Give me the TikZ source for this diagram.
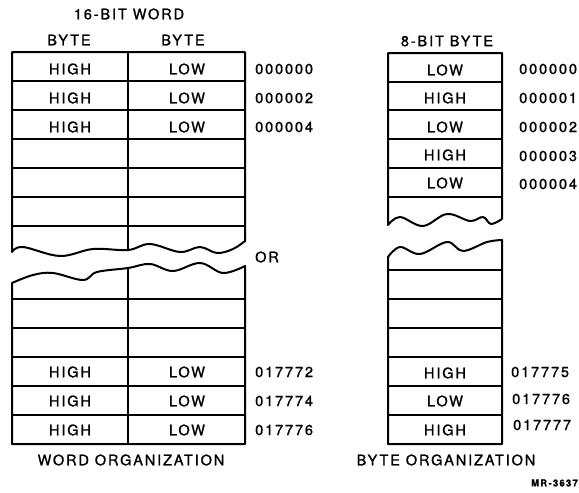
\documentclass[tikz,border=0pt]{standalone}
\usepackage{fontspec}
\setmainfont[LetterSpace=13, FakeBold=1.2]{TeX Gyre Heros}
\usepackage{tikz}
\tikzset{
boxline/.style={line width=2pt, line join=round},
cellline/.style={line width=1.5pt},
cell/.style={font=\fontsize{14.5}{16}\selectfont, inner sep=0pt},
addr/.style={font=\fontsize{14.5}{16}\selectfont, inner sep=0pt, anchor=west},
caption/.style={font=\fontsize{14.5}{16}\selectfont, inner sep=0pt},
tag/.style={font=\fontsize{9.5}{11}\selectfont\bfseries, inner sep=0pt},
}
\begin{document}
\begin{tikzpicture}[x=1pt, y=-1pt]
	\useasboundingbox[fill=white] (0,0) rectangle (579,493);
	
	% word organization
	\draw[boxline] (245,242) -- (245,52) -- (12,52) -- (12,252)
		-- plot[smooth, tension=0.6] coordinates {(12,252) (23,247) (60,256) (93,249) (128,250) (150,244) (180,252) (200,247) (217,253) (233,249) (245,241)};
	\draw[boxline] (12,283) -- plot[smooth, tension=0.6] coordinates {(12,283) (33,275) (53,273) (83,280) (97,272) (128,268) (150,264) (173,271) (200,263) (223,273) (245,266)}
		-- (245,444) -- (12,444) -- cycle;
	\draw[cellline] (128,52) -- (128,250) (128,268) -- (128,444);
	\draw[cellline] (12,81) -- (245,81) (12,110) -- (245,110) (12,139) -- (245,139)
		(12,168) -- (245,168) (12,197) -- (245,197) (12,226) -- (245,226);
	\draw[cellline] (12,299) -- (245,299) (12,328) -- (245,328) (12,357) -- (245,357)
		(12,386) -- (245,386) (12,415) -- (245,415);
	
	% byte organization
	\draw[boxline] (502,219) -- (502,53) -- (388,53) -- (388,225)
		-- plot[smooth, tension=0.6] coordinates {(388,225) (400,217) (423,226) (447,214) (470,221) (483,217) (491,224) (502,219)};
	\draw[boxline] (388,257) -- plot[smooth, tension=0.6] coordinates {(388,257) (400,247) (420,254) (447,242) (463,251) (487,242) (502,240)}
		-- (502,444) -- (388,444) -- cycle;
	\draw[cellline] (388,82) -- (502,82) (388,110) -- (502,110) (388,139) -- (502,139)
		(388,168) -- (502,168) (388,197) -- (502,197);
	\draw[cellline] (388,270) -- (502,270) (388,299) -- (502,299) (388,328) -- (502,328)
		(388,357) -- (502,357) (388,386) -- (502,386) (388,415) -- (502,415);
	
	% headings
	\node[caption] (wordtitle) at (129,14) {16-BIT WORD};
	\node[caption] (hibyte) at (69,40) {BYTE};
	\node[caption] (lobyte) at (183,40) {BYTE};
	\node[caption] (bytetitle) at (447,41) {8-BIT BYTE};
	
	% word cells
	\node[cell] (wh1) at (70,69) {HIGH};
	\node[cell] (wl1) at (187,69) {LOW};
	\node[cell] (wh2) at (70,98) {HIGH};
	\node[cell] (wl2) at (187,98) {LOW};
	\node[cell] (wh3) at (70,127) {HIGH};
	\node[cell] (wl3) at (187,127) {LOW};
	\node[cell] (wh4) at (70,372) {HIGH};
	\node[cell] (wl4) at (187,372) {LOW};
	\node[cell] (wh5) at (70,401) {HIGH};
	\node[cell] (wl5) at (187,401) {LOW};
	\node[cell] (wh6) at (70,430) {HIGH};
	\node[cell] (wl6) at (187,430) {LOW};
	
	\node[addr] (wa1) at (255,69) {000000};
	\node[addr] (wa2) at (255,98) {000002};
	\node[addr] (wa3) at (255,127) {000004};
	\node[addr] (wa4) at (255,372) {017772};
	\node[addr] (wa5) at (255,401) {017774};
	\node[addr] (wa6) at (255,430) {017776};
	
	% byte cells
	\node[cell] (b1) at (445,70) {LOW};
	\node[cell] (b2) at (445,98) {HIGH};
	\node[cell] (b3) at (445,127) {LOW};
	\node[cell] (b4) at (445,155) {HIGH};
	\node[cell] (b5) at (445,183) {LOW};
	\node[cell] (b6) at (445,373) {HIGH};
	\node[cell] (b7) at (445,401) {LOW};
	\node[cell] (b8) at (445,430) {HIGH};
	
	\node[addr] (ba1) at (519,69) {000000};
	\node[addr] (ba2) at (519,98) {000001};
	\node[addr] (ba3) at (519,127) {000002};
	\node[addr] (ba4) at (519,156) {000003};
	\node[addr] (ba5) at (519,184) {000004};
	\node[addr] (ba6) at (511,372) {017775};
	\node[addr] (ba7) at (512,399) {017776};
	\node[addr] (ba8) at (513,425) {017777};
	
	\node[addr] (or) at (255,257) {OR};
	\node[caption] (wordorg) at (131,460) {WORD ORGANIZATION};
	\node[caption] (byteorg) at (446,460) {BYTE ORGANIZATION};
	\node[tag, anchor=east] (mr) at (578,483) {MR-3637};
\end{tikzpicture}
\end{document}
